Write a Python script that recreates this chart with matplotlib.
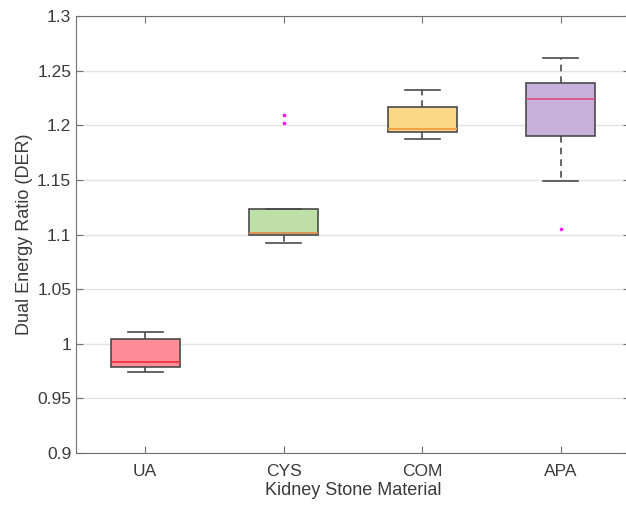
import numpy as np
import matplotlib.pyplot as plt

plt.rcParams['font.family'] = ['Liberation Sans', 'DejaVu Sans']

# box statistics
materials = ['UA', 'CYS', 'COM', 'APA']
whisker_low = [0.9739, 1.0919, 1.1871, 1.149]
q1 = [0.9784, 1.0992, 1.194, 1.1899]
median = [0.9833, 1.1017, 1.1966, 1.224]
q3 = [1.0046, 1.1233, 1.217, 1.239]
whisker_high = [1.011, 1.1233, 1.2326, 1.2616]
outliers = [[], [1.2091, 1.2021], [], [1.105]]

fill_colors = ['#FF8D97', '#BEE0A6', '#FAD888', '#C8B2DC']
median_colors = ['#E5303F', '#E3864A', '#F29A3E', '#D8507E']

stats = []
for i, name in enumerate(materials):
    stats.append(dict(label=name, whislo=whisker_low[i], q1=q1[i], med=median[i],
                      q3=q3[i], whishi=whisker_high[i], fliers=outliers[i]))

fig = plt.figure(figsize=(6.26, 5.12), dpi=100)
ax = fig.add_axes([0.1214, 0.1152, 0.885, 0.8535])

edge = '#4a4a4a'
bp = ax.bxp(stats, positions=np.arange(1, 5), widths=0.5, capwidths=0.25,
            patch_artist=True,
            boxprops=dict(edgecolor=edge, linewidth=1.2),
            whiskerprops=dict(color=edge, linewidth=1.2, linestyle=(0, (4, 3))),
            capprops=dict(color=edge, linewidth=1.2),
            medianprops=dict(linewidth=1.2),
            flierprops=dict(marker='.', markersize=3, markerfacecolor='#FF00FF',
                            markeredgecolor='#FF00FF'))

for patch, fc in zip(bp['boxes'], fill_colors):
    patch.set_facecolor(fc)
for med, mc in zip(bp['medians'], median_colors):
    med.set_color(mc)

ax.set_xlim(0.5, 4.5)
ax.set_ylim(0.9, 1.3)
ax.set_yticks(np.arange(0.9, 1.3001, 0.05))
ax.set_yticklabels(['0.9', '0.95', '1', '1.05', '1.1', '1.15', '1.2', '1.25', '1.3'])
ax.yaxis.grid(True, color='#e3e3e3', linewidth=1)
ax.set_axisbelow(True)

for side in ['left', 'bottom', 'top', 'right']:
    ax.spines[side].set_color('#707070')
ax.tick_params(axis='both', direction='in', colors='#707070', labelcolor='#3a3a3a',
               labelsize=12.5, length=5, top=True, right=True)
ax.tick_params(axis='x', pad=8)

ax.set_xlabel('Kidney Stone Material', fontsize=13, color='#3a3a3a', labelpad=2)
ax.set_ylabel('Dual Energy Ratio (DER)', fontsize=13, color='#3a3a3a', labelpad=3)

fig.savefig('out.png', dpi=100)
